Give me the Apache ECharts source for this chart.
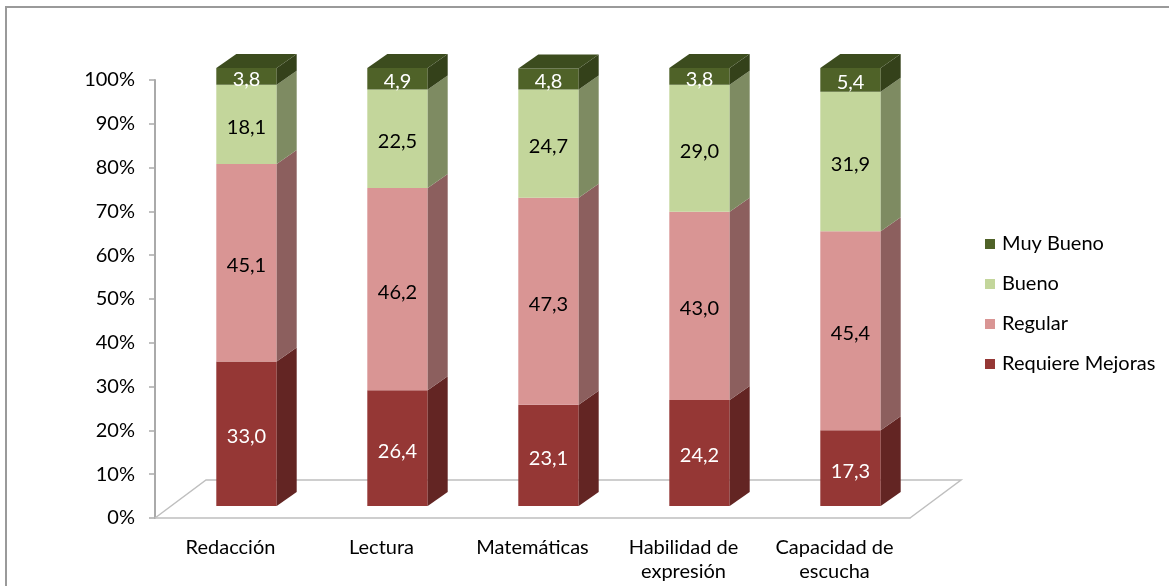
<!DOCTYPE html>
<html>
<head>
<meta charset="utf-8">
<script src="https://cdn.jsdelivr.net/npm/echarts@6/dist/echarts.min.js"></script>
<style>
  html, body { margin: 0; padding: 0; background: #fff; }
  #chart { width: 1169px; height: 586px; }
</style>
</head>
<body>
<div id="chart"></div>
<script>
const categories = ['Redacción', 'Lectura', 'Matemáticas', 'Habilidad de\nexpresión', 'Capacidad de\nescucha']
const requiereMejoras = [33.0, 26.4, 23.1, 24.2, 17.3]
const regular = [45.1, 46.2, 47.3, 43.0, 45.4]
const bueno = [18.1, 22.5, 24.7, 29.0, 31.9]
const muyBueno = [3.8, 4.9, 4.8, 3.8, 5.4]
const yTicks = { min: 0, max: 100, interval: 10 }

const FONT = 'Lato, "Open Sans", sans-serif'
// 3D look: bar sits a bit back on the floor, depth drawn as an offset
const SHIFT_X = 16
const SHIFT_Y = -12
const DX = 20
const DY = -14
const FLOOR_DX = 51
const FLOOR_DY = -38

const layers = [
  { name: 'Requiere Mejoras', values: requiereMejoras, color: '#953735', side: '#632523', top: '#7a2c2a', label: '#ffffff' },
  { name: 'Regular', values: regular, color: '#d99594', side: '#8c5f5e', top: '#b87d7c', label: '#000000' },
  { name: 'Bueno', values: bueno, color: '#c3d69b', side: '#7e8b62', top: '#a5b883', label: '#000000' },
  { name: 'Muy Bueno', values: muyBueno, color: '#4f6228', side: '#34411a', top: '#3c4c1e', label: '#ffffff' }
]

const fmt = (v) => v.toFixed(1).replace('.', ',')

function makeRender(layer, isTop) {
  return function (params, api) {
    const c = api.value(0)
    const lo = api.value(1)
    const hi = api.value(2)
    const v = api.value(3)
    const pLo = api.coord([c, lo])
    const pHi = api.coord([c, hi])
    const bw = api.size([1, 0])[0] * 0.4
    const x0 = pLo[0] + SHIFT_X - bw / 2
    const x1 = x0 + bw
    const yb = pLo[1] + SHIFT_Y
    const yt = pHi[1] + SHIFT_Y
    const children = [
      { type: 'rect', shape: { x: x0, y: yt, width: bw, height: yb - yt }, style: { fill: layer.color } },
      { type: 'polygon', shape: { points: [[x1, yb], [x1 + DX, yb + DY], [x1 + DX, yt + DY], [x1, yt]] }, style: { fill: layer.side } }
    ]
    if (isTop) {
      children.push({ type: 'polygon', shape: { points: [[x0, yt], [x0 + DX, yt + DY], [x1 + DX, yt + DY], [x1, yt]] }, style: { fill: layer.top } })
    }
    children.push({
      type: 'text',
      style: {
        text: fmt(v), x: (x0 + x1) / 2, y: (yt + yb) / 2 + 3,
        align: 'center', verticalAlign: 'middle',
        fill: layer.label, font: '20px ' + FONT
      }
    })
    return { type: 'group', children }
  }
}

const base = categories.map(() => 0)
const barSeries = layers.map((layer, li) => {
  const data = layer.values.map((v, i) => {
    const lo = base[i]
    base[i] += v
    return [i, lo, base[i], v]
  })
  return {
    name: layer.name,
    type: 'custom',
    z: 3,
    itemStyle: { color: layer.color },
    encode: { x: 0, y: [1, 2] },
    renderItem: makeRender(layer, li === layers.length - 1),
    data
  }
})

const floorSeries = {
  name: 'floor',
  type: 'custom',
  z: 1,
  silent: true,
  data: [[0, 0]],
  renderItem: (params, api) => {
    const cs = params.coordSys
    const yb = cs.y + cs.height
    return {
      type: 'polyline',
      shape: { points: [[cs.x, yb], [cs.x + FLOOR_DX, yb + FLOOR_DY], [cs.x + cs.width + FLOOR_DX, yb + FLOOR_DY], [cs.x + cs.width, yb]] },
      style: { stroke: '#bfbfbf', lineWidth: 1.5, fill: null }
    }
  }
}

const chart = echarts.init(document.getElementById('chart'))
chart.setOption({
  animation: false,
  backgroundColor: '#ffffff',
  graphic: [{
    type: 'rect',
    shape: { x: 6, y: 7, width: 1300, height: 700 },
    style: { fill: null, stroke: '#9a9a9a', lineWidth: 2 },
    z: -1
  }],
  grid: { left: 155, right: 259, top: 80, bottom: 68 },
  legend: {
    data: ['Muy Bueno', 'Bueno', 'Regular', 'Requiere Mejoras'],
    orient: 'vertical',
    left: 980,
    top: 229,
    itemWidth: 10,
    itemHeight: 10,
    itemGap: 20,
    icon: 'rect',
    textStyle: { fontFamily: FONT, fontSize: 20, color: '#000', padding: [0, 0, 0, 2] }
  },
  xAxis: {
    type: 'category',
    data: categories,
    axisLine: { lineStyle: { color: '#bfbfbf', width: 1.5 } },
    axisTick: { length: 6, lineStyle: { color: '#bfbfbf', width: 1.5 } },
    axisLabel: { margin: 18, fontFamily: FONT, fontSize: 20, color: '#000', lineHeight: 24, interval: 0 }
  },
  yAxis: {
    type: 'value',
    min: yTicks.min,
    max: yTicks.max,
    interval: yTicks.interval,
    axisLine: { show: true, lineStyle: { color: '#aaaaaa', width: 2 } },
    axisTick: { show: true, length: 6, lineStyle: { color: '#aaaaaa', width: 1.5 } },
    splitLine: { show: false },
    axisLabel: { margin: 20, formatter: '{value}%', fontFamily: FONT, fontSize: 20, color: '#000' }
  },
  series: [floorSeries, ...barSeries]
})
</script>
</body>
</html>
